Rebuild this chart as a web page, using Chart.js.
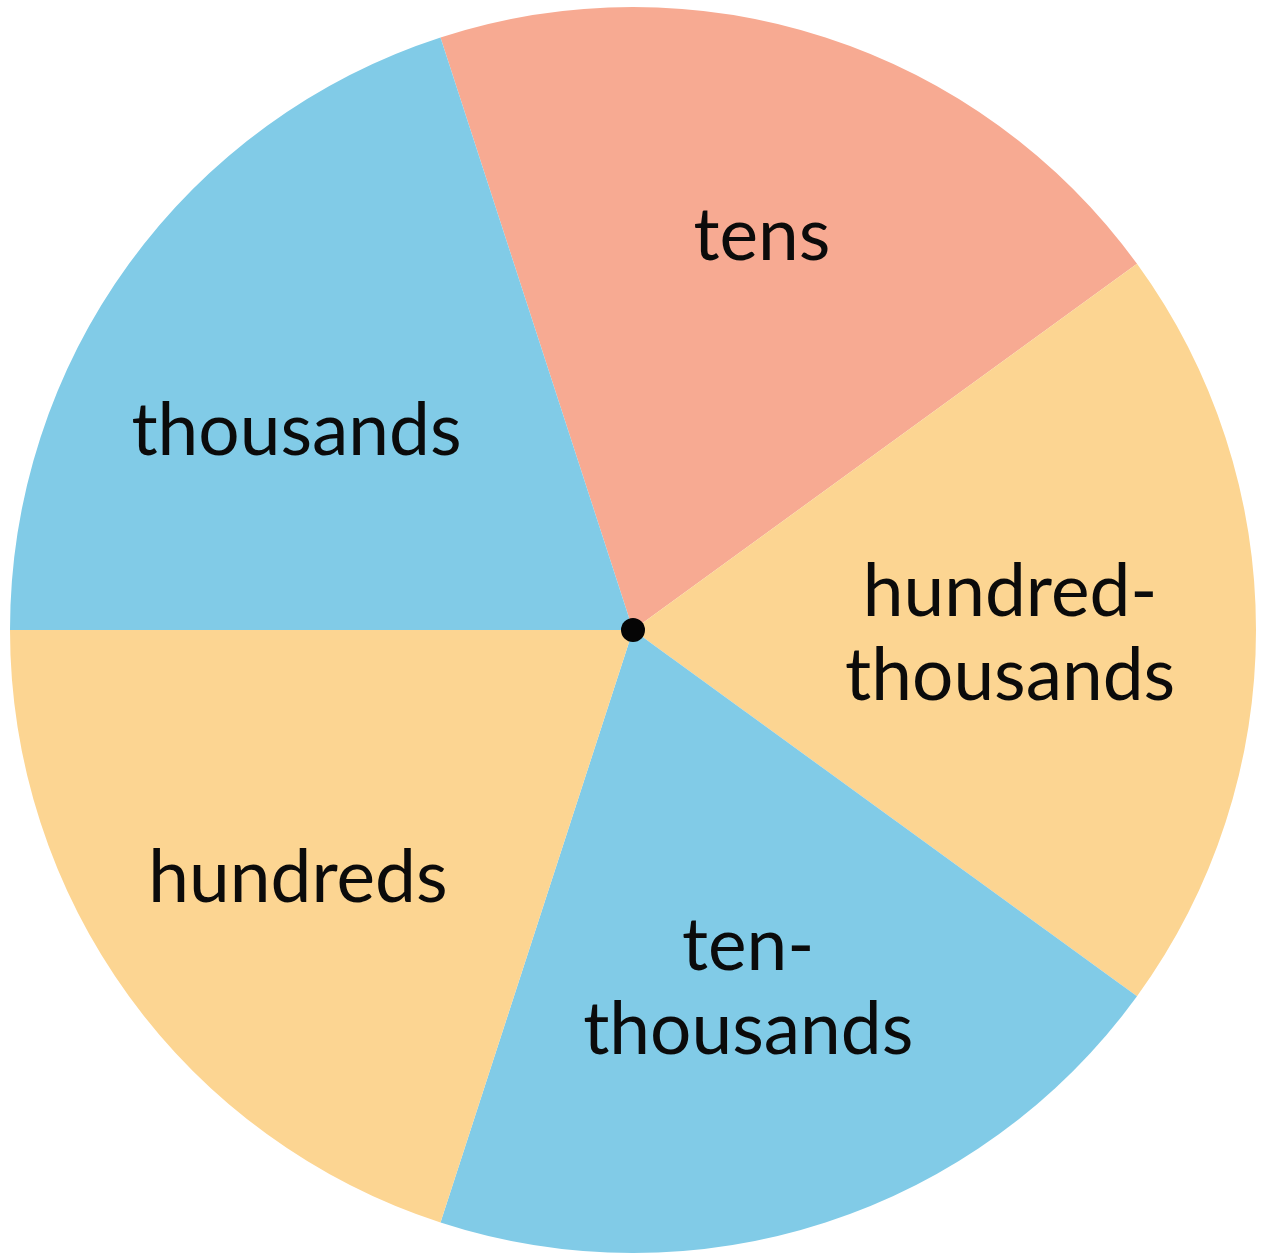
<!DOCTYPE html>
<html>
<head>
<meta charset="utf-8">
<script src="https://cdn.jsdelivr.net/npm/chart.js@4/dist/chart.umd.min.js"></script>
<style>
  html, body { margin: 0; padding: 0; background: #ffffff; }
  #wrap { width: 1266px; height: 1253px; }
</style>
</head>
<body>
<div id="wrap"><canvas id="c" width="1266" height="1253"></canvas></div>
<script>
// Sectors listed clockwise, starting at the tens sector
const categories = ['tens', 'hundred-thousands', 'ten-thousands', 'hundreds', 'thousands'];
const labelLines = [['tens'], ['hundred-', 'thousands'], ['ten-', 'thousands'], ['hundreds'], ['thousands']];
const values = [1, 1, 1, 1, 1];
const colors = ['#F7AA92', '#FCD592', '#81CBE7', '#FCD592', '#81CBE7'];

const labelPlugin = {
  id: 'spinnerLabels',
  afterDatasetsDraw(chart, args, opts) {
    const ctx = chart.ctx;
    const meta = chart.getDatasetMeta(0);
    ctx.save();
    ctx.fillStyle = opts.color;
    ctx.font = opts.font;
    ctx.textAlign = 'center';
    ctx.textBaseline = 'alphabetic';
    meta.data.forEach((arc, i) => {
      const p = opts.place[i];
      const mid = (arc.startAngle + arc.endAngle) / 2 + p.da * Math.PI / 180;
      const r = arc.outerRadius * p.frac;
      const ax = arc.x + r * Math.cos(mid);
      const ay = arc.y + r * Math.sin(mid);
      const lines = labelLines[i];
      const n = lines.length;
      lines.forEach((t, k) => {
        const y = ay + (k - (n - 1) / 2) * opts.lineHeight;
        ctx.fillText(t, ax, y);
      });
    });
    // centre pin
    const a0 = meta.data[0];
    ctx.beginPath();
    ctx.arc(a0.x, a0.y, opts.dotRadius, 0, Math.PI * 2);
    ctx.fillStyle = '#050505';
    ctx.fill();
    ctx.restore();
  }
};

new Chart(document.getElementById('c'), {
  type: 'pie',
  data: {
    labels: categories,
    datasets: [{
      data: values,
      backgroundColor: colors,
      borderWidth: 0,
      hoverOffset: 0
    }]
  },
  options: {
    responsive: false,
    animation: false,
    rotation: -18,
    layout: { padding: { top: 7, bottom: 0, left: 0, right: 0 } },
    plugins: {
      legend: { display: false },
      tooltip: { enabled: false },
      spinnerLabels: {
        color: '#0b0b0b',
        font: '400 73px Lato',
        lineHeight: 84,
        dotRadius: 12,
        place: [
          { frac: 0.629, da: 1.2 },
          { frac: 0.607, da: 4.2 },
          { frac: 0.640, da: 1.2 },
          { frac: 0.693, da: -3.1 },
          { frac: 0.609, da: -8.5 }
        ]
      }
    }
  },
  plugins: [labelPlugin]
});
</script>
</body>
</html>
